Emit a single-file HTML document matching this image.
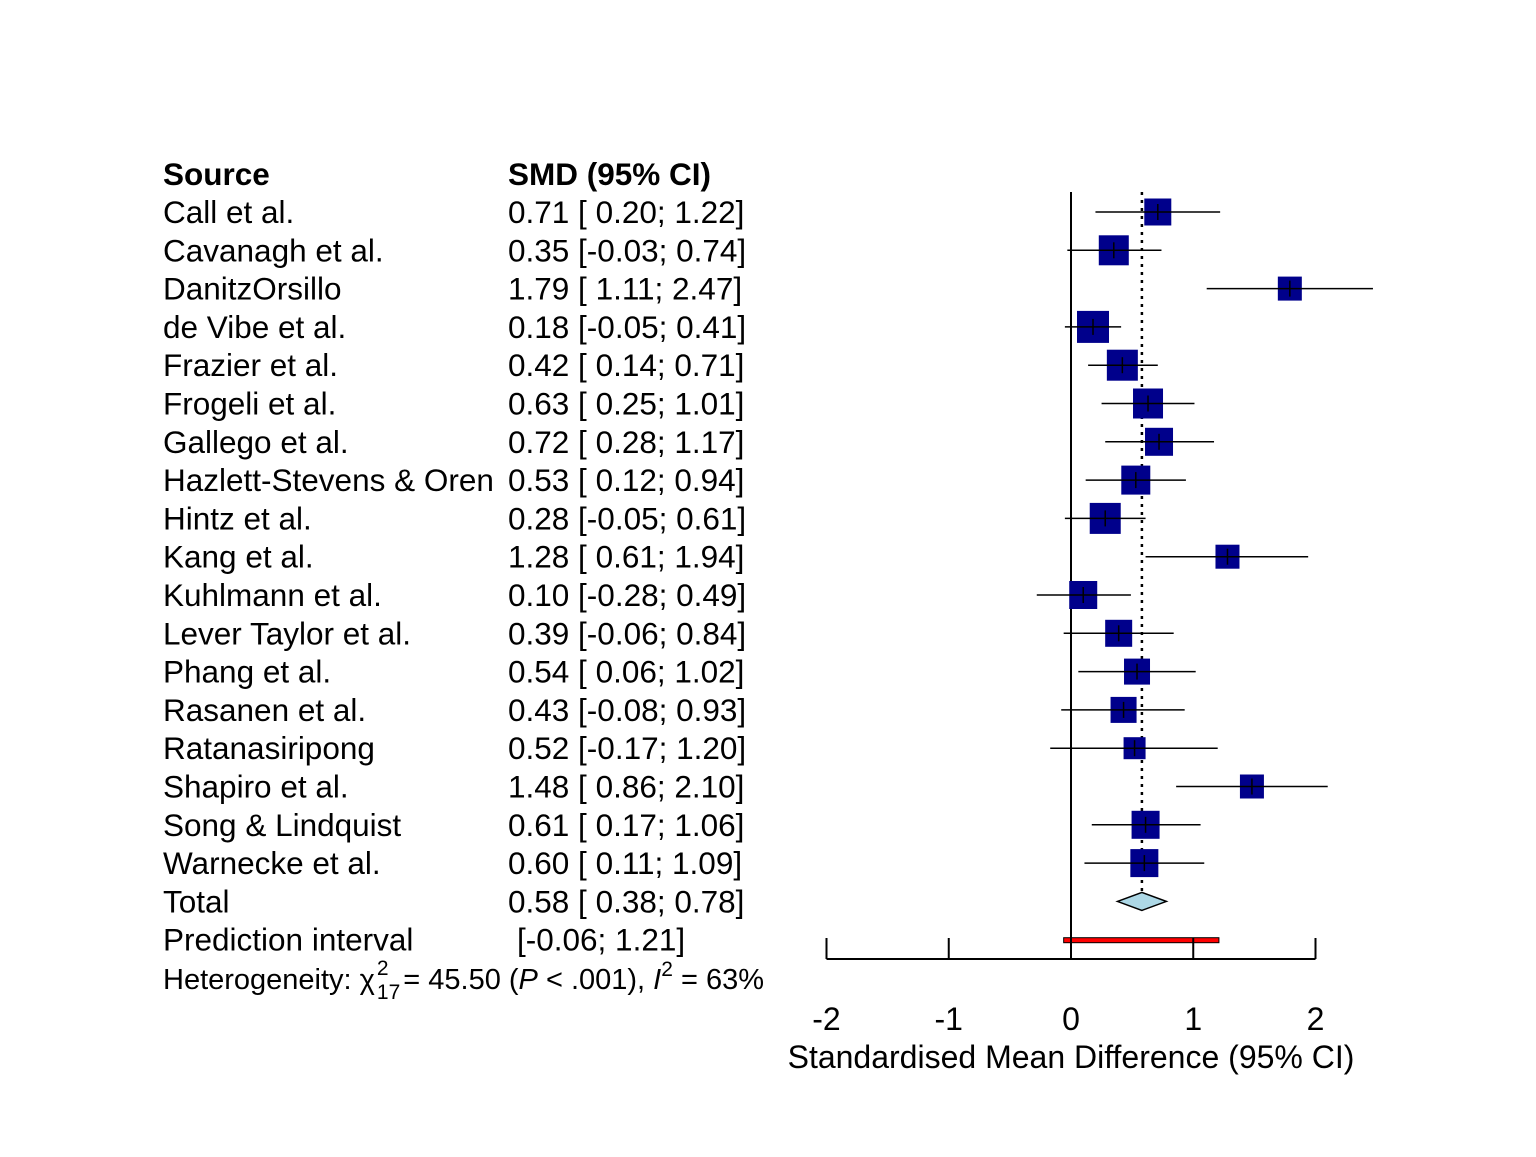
<!DOCTYPE html>
<html><head><meta charset="utf-8"><style>
body{margin:0;background:#fff}
svg text{font-family:"Liberation Sans",Arial,sans-serif;fill:#000}
</style></head><body>
<svg id="chart" width="1536" height="1152" xmlns="http://www.w3.org/2000/svg"></svg>
<script>
const studies=["Call et al.","Cavanagh et al.","DanitzOrsillo","de Vibe et al.","Frazier et al.","Frogeli et al.","Gallego et al.","Hazlett-Stevens & Oren","Hintz et al.","Kang et al.","Kuhlmann et al.","Lever Taylor et al.","Phang et al.","Rasanen et al.","Ratanasiripong","Shapiro et al.","Song & Lindquist","Warnecke et al."];
const smd=[0.71,0.35,1.79,0.18,0.42,0.63,0.72,0.53,0.28,1.28,0.10,0.39,0.54,0.43,0.52,1.48,0.61,0.60];
const lower=[0.20,-0.03,1.11,-0.05,0.14,0.25,0.28,0.12,-0.05,0.61,-0.28,-0.06,0.06,-0.08,-0.17,0.86,0.17,0.11];
const upper=[1.22,0.74,2.47,0.41,0.71,1.01,1.17,0.94,0.61,1.94,0.49,0.84,1.02,0.93,1.20,2.10,1.06,1.09];
const weights=[13.5,15,12,16,15.5,15,14,14.5,15.5,12,14,13.5,13,13,11,12,14,14];
const total=[0.58,0.38,0.78];
const predInt=[-0.06,1.21];
const xTicks=[-2,-1,0,1,2];
const svg=document.getElementById('chart');
const NS='http://www.w3.org/2000/svg';
const xs=v=>1071+v*122.25;
const ys=i=>212+i*38.3;
const FS=31.5;
function mk(tag,attrs,txt){const e=document.createElementNS(NS,tag);for(const k in attrs)e.setAttribute(k,attrs[k]);if(txt!==undefined)e.textContent=txt;svg.appendChild(e);return e;}
const fmtP=v=>(v<0?'-':' ')+Math.abs(v).toFixed(2);
let h=mk('text',{x:163,y:185,'font-size':FS,'font-weight':'bold'},'Source');

h=mk('text',{x:508,y:185,'font-size':FS,'font-weight':'bold'},'SMD (95% CI)');

let l=mk('line',{x1:xs(0),x2:xs(0),y1:192,y2:950,stroke:'#000','stroke-width':2});

l=mk('line',{x1:xs(total[0]),x2:xs(total[0]),y1:192,y2:892,stroke:'#000','stroke-width':2.5,'stroke-dasharray':'3,5'});

studies.forEach((s,i)=>{
  const y=ys(i);
  let t=mk('text',{x:163,y:y+11,'font-size':FS},s);
  
  t=mk('text',{x:508,y:y+11,'font-size':FS,'xml:space':'preserve'},smd[i].toFixed(2)+' ['+fmtP(lower[i])+'; '+upper[i].toFixed(2)+']');
  
  const w=weights[i];
  let r=mk('rect',{x:xs(smd[i])-w,y:y-w,width:2*w,height:2*w,fill:'#00008B'});
  
  let c=mk('line',{x1:xs(lower[i]),x2:xs(upper[i]),y1:y,y2:y,stroke:'#000','stroke-width':1.5});
  
  c=mk('line',{x1:xs(smd[i]),x2:xs(smd[i]),y1:y-8,y2:y+8,stroke:'#000','stroke-width':1.5});
  
});
const yt=ys(18);
let t=mk('text',{x:163,y:yt+11,'font-size':FS},'Total');

t=mk('text',{x:508,y:yt+11,'font-size':FS,'xml:space':'preserve'},total[0].toFixed(2)+' ['+fmtP(total[1])+'; '+total[2].toFixed(2)+']');

let d=mk('polygon',{points:`${xs(total[1])},${yt} ${xs(total[0])},${yt-9} ${xs(total[2])},${yt} ${xs(total[0])},${yt+9}`,fill:'#ADD8E6',stroke:'#000','stroke-width':1.5});

const yp=ys(19);
t=mk('text',{x:163,y:yp+11,'font-size':FS},'Prediction interval');

t=mk('text',{x:517,y:yp+11,'font-size':FS},'['+predInt[0].toFixed(2)+'; '+predInt[1].toFixed(2)+']');

let p=mk('rect',{x:xs(predInt[0]),y:yp-2,width:xs(predInt[1])-xs(predInt[0]),height:5,fill:'#FF0000',stroke:'#000','stroke-width':1});

// heterogeneity
let h1=mk('text',{x:163,y:989,'font-size':29},'Heterogeneity: χ');

let hx=163+h1.getComputedTextLength()+2;
let s1=mk('text',{x:hx,y:975,'font-size':21},'2');

let s2=mk('text',{x:hx,y:999,'font-size':21},'17');

hx+=s2.getComputedTextLength()+3;
let h2=mk('text',{x:hx,y:989,'font-size':29,'xml:space':'preserve'});
h2.innerHTML=' = 45.50 (<tspan font-style="italic">P</tspan> &lt; .001), <tspan font-style="italic">I</tspan><tspan dy="-13" font-size="21">2</tspan><tspan dy="13"> = 63%</tspan>';

// axis
l=mk('line',{x1:xs(-2),x2:xs(2),y1:959,y2:959,stroke:'#000','stroke-width':2});

xTicks.forEach(v=>{
  let k=mk('line',{x1:xs(v),x2:xs(v),y1:938,y2:959,stroke:'#000','stroke-width':2});
  
  let tl=mk('text',{x:xs(v),y:1030,'font-size':32,'text-anchor':'middle'},String(v));
  
});
t=mk('text',{x:1071,y:1068,'font-size':32,'text-anchor':'middle'},'Standardised Mean Difference (95% CI)');

</script>
</body></html>
